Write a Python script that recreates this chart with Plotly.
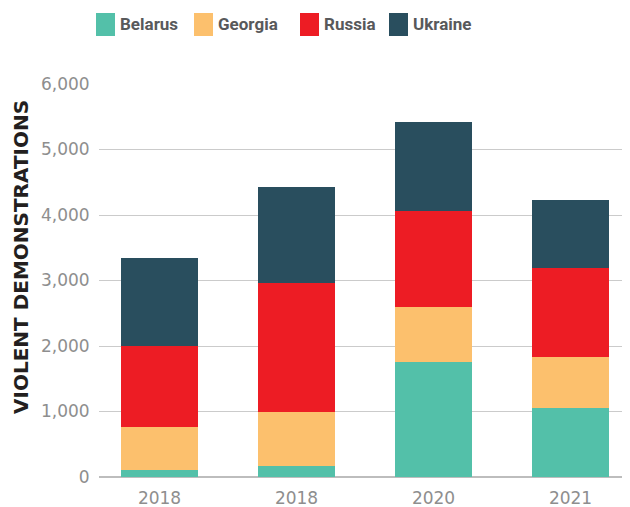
import plotly.graph_objects as go

categories = ["2018", "2018", "2020", "2021"]
positions = [0, 1, 2, 3]
belarus = [112, 173, 1763, 1060]
georgia = [657, 825, 826, 779]
russia = [1228, 1963, 1472, 1346]
ukraine = [1353, 1462, 1356, 1040]

series = [
    ("Belarus", belarus, "#53C0A9"),
    ("Georgia", georgia, "#FCC06D"),
    ("Russia", russia, "#ED1C24"),
    ("Ukraine", ukraine, "#294E5E"),
]

W, H = 630, 507
OFF = 8  # page body margin
# plot area in page pixels
PL, PT, PR, PB = 99, 84, 630, 477
L, T = PL - OFF, PT - OFF
R = W - (PR - OFF)
B = H - (PB - OFF)
pw, ph = W - L - R, H - T - B

fig = go.Figure()
for name, vals, col in series:
    fig.add_trace(go.Bar(x=positions, y=vals, name=name, marker=dict(color=col, line=dict(width=0)),
                         width=0.562, showlegend=False))

def px_x(x):  # page x -> paper
    return (x - PL) / pw

def px_y(y):  # page y -> paper
    return 1 - (y - PT) / ph

# manual legend
legend_items = [("Belarus", 96, "#53C0A9"), ("Georgia", 194, "#FCC06D"),
                ("Russia", 300, "#ED1C24"), ("Ukraine", 389, "#294E5E")]
for name, x0, col in legend_items:
    fig.add_shape(type="rect", xref="paper", yref="paper",
                  x0=px_x(x0), x1=px_x(x0 + 19), y0=px_y(36), y1=px_y(13),
                  fillcolor=col, line=dict(width=0))
    fig.add_annotation(xref="paper", yref="paper", x=px_x(x0 + 22), y=px_y(24.5),
                       text=f"<b>{name}</b>", showarrow=False, xanchor="left", yanchor="middle",
                       font=dict(family="Roboto", size=17, color="#58595B"))

# y-axis title
fig.add_annotation(xref="paper", yref="paper", x=px_x(21), y=px_y(257),
                   text="<b>VIOLENT DEMONSTRATIONS</b>", textangle=-90, showarrow=False,
                   xanchor="center", yanchor="middle",
                   font=dict(family="DejaVu Sans", size=20, color="#231F20"))

tickfont = dict(family="DejaVu Sans", size=17, color="#8E8E8E")

fig.update_layout(
    width=W, height=H,
    margin=dict(l=L, r=R, t=T, b=B),
    barmode="stack",
    plot_bgcolor="white", paper_bgcolor="white",
    bargap=0,
    xaxis=dict(range=[-0.442, 3.434], tickvals=positions, ticktext=categories,
               showgrid=False, zeroline=False, showline=False, automargin=False,
               ticks="outside", ticklen=6, tickcolor="white",
               tickfont=tickfont),
    yaxis=dict(range=[0, 6000], tickvals=[0, 1000, 2000, 3000, 4000, 5000, 6000],
               tickformat=",", showgrid=True, gridcolor="#CBCBCB", gridwidth=1.3,
               zeroline=True, zerolinecolor="#BDBDBD", zerolinewidth=1.5, automargin=False,
               tickfont=tickfont,
               ticks="outside", ticklen=5, tickcolor="white"),
)

fig.write_html("out.html")
